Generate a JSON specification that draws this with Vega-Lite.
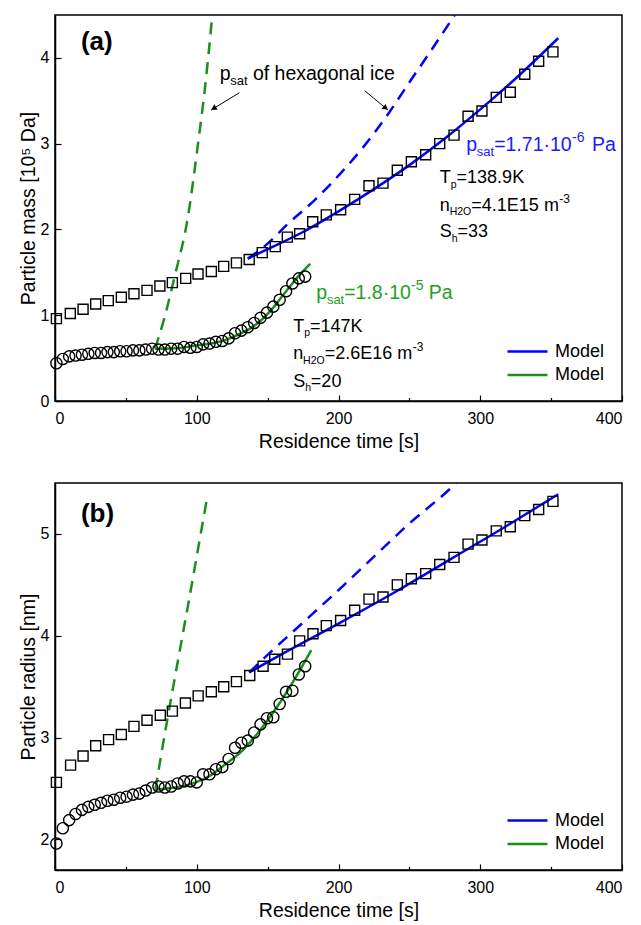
{
  "$schema": "https://vega.github.io/schema/vega-lite/v6.json",
  "background": "white",
  "padding": {"left": 17, "top": 14, "right": 12, "bottom": 5},
  "spacing": 30,
  "config": {
    "font": "Liberation Sans",
    "view": {"stroke": "black", "strokeWidth": 1.5},
    "axis": {
      "grid": false,
      "labelFont": "Liberation Sans",
      "labelFontSize": 16,
      "labelColor": "black",
      "titleFont": "Liberation Sans",
      "titleFontSize": 19.5,
      "titleFontWeight": "normal",
      "titleColor": "black",
      "domainColor": "black",
      "domainWidth": 1.5,
      "tickColor": "black",
      "tickWidth": 1.2
    },
    "legend": {
      "labelFont": "Liberation Sans",
      "labelFontSize": 18,
      "labelColor": "black"
    }
  },
  "resolve": {"scale": {"color": "independent"}, "legend": {"color": "independent"}},
  "datasets": {
    "massPts": [
      {"run": "squares", "t": 1, "v": 0.96}, {"run": "squares", "t": 10.8, "v": 1.02}, {"run": "squares", "t": 19.8, "v": 1.07},
      {"run": "squares", "t": 28.7, "v": 1.13}, {"run": "squares", "t": 37.6, "v": 1.17}, {"run": "squares", "t": 46.8, "v": 1.21},
      {"run": "squares", "t": 55.7, "v": 1.25}, {"run": "squares", "t": 64.9, "v": 1.29}, {"run": "squares", "t": 74, "v": 1.34},
      {"run": "squares", "t": 82.8, "v": 1.38}, {"run": "squares", "t": 92.2, "v": 1.43}, {"run": "squares", "t": 100.9, "v": 1.48},
      {"run": "squares", "t": 110.3, "v": 1.51}, {"run": "squares", "t": 119, "v": 1.57}, {"run": "squares", "t": 128, "v": 1.61},
      {"run": "squares", "t": 137, "v": 1.65}, {"run": "squares", "t": 146.2, "v": 1.73}, {"run": "squares", "t": 155.4, "v": 1.8},
      {"run": "squares", "t": 163.9, "v": 1.91}, {"run": "squares", "t": 172.6, "v": 1.95}, {"run": "squares", "t": 181.8, "v": 2.09},
      {"run": "squares", "t": 191.4, "v": 2.17}, {"run": "squares", "t": 201.5, "v": 2.23}, {"run": "squares", "t": 211.4, "v": 2.35},
      {"run": "squares", "t": 221.5, "v": 2.51}, {"run": "squares", "t": 231.4, "v": 2.54}, {"run": "squares", "t": 241.5, "v": 2.69},
      {"run": "squares", "t": 251.4, "v": 2.79}, {"run": "squares", "t": 261.5, "v": 2.87}, {"run": "squares", "t": 271.4, "v": 3.0},
      {"run": "squares", "t": 281.5, "v": 3.1}, {"run": "squares", "t": 291.4, "v": 3.32}, {"run": "squares", "t": 301.2, "v": 3.38},
      {"run": "squares", "t": 311.3, "v": 3.54}, {"run": "squares", "t": 321.2, "v": 3.6}, {"run": "squares", "t": 331.4, "v": 3.81},
      {"run": "squares", "t": 341.2, "v": 3.96}, {"run": "squares", "t": 351.3, "v": 4.07},
      {"run": "circles", "t": 1, "v": 0.44}, {"run": "circles", "t": 5.5, "v": 0.49}, {"run": "circles", "t": 10, "v": 0.52},
      {"run": "circles", "t": 14.5, "v": 0.53}, {"run": "circles", "t": 19, "v": 0.54}, {"run": "circles", "t": 23.5, "v": 0.55},
      {"run": "circles", "t": 28, "v": 0.56}, {"run": "circles", "t": 32.5, "v": 0.56}, {"run": "circles", "t": 37, "v": 0.57},
      {"run": "circles", "t": 41.5, "v": 0.57}, {"run": "circles", "t": 46, "v": 0.58}, {"run": "circles", "t": 50.5, "v": 0.58},
      {"run": "circles", "t": 55, "v": 0.59}, {"run": "circles", "t": 59.5, "v": 0.59}, {"run": "circles", "t": 64, "v": 0.6},
      {"run": "circles", "t": 68.5, "v": 0.61}, {"run": "circles", "t": 73, "v": 0.6}, {"run": "circles", "t": 77.5, "v": 0.6},
      {"run": "circles", "t": 82, "v": 0.61}, {"run": "circles", "t": 86.5, "v": 0.61}, {"run": "circles", "t": 91, "v": 0.63},
      {"run": "circles", "t": 95.5, "v": 0.62}, {"run": "circles", "t": 100, "v": 0.63}, {"run": "circles", "t": 104.5, "v": 0.66},
      {"run": "circles", "t": 109, "v": 0.67}, {"run": "circles", "t": 113.5, "v": 0.69}, {"run": "circles", "t": 118, "v": 0.7},
      {"run": "circles", "t": 122.5, "v": 0.73}, {"run": "circles", "t": 127, "v": 0.79}, {"run": "circles", "t": 131.5, "v": 0.82},
      {"run": "circles", "t": 136, "v": 0.86}, {"run": "circles", "t": 140.5, "v": 0.91}, {"run": "circles", "t": 145, "v": 0.97},
      {"run": "circles", "t": 149.5, "v": 1.03}, {"run": "circles", "t": 154, "v": 1.1}, {"run": "circles", "t": 158.5, "v": 1.18},
      {"run": "circles", "t": 163, "v": 1.28}, {"run": "circles", "t": 167.5, "v": 1.37}, {"run": "circles", "t": 172, "v": 1.43},
      {"run": "circles", "t": 176.5, "v": 1.45}
    ],
    "massModel": [
      {"series": "squares", "kind": "fit", "t": 136, "v": 1.66}, {"series": "squares", "kind": "fit", "t": 150, "v": 1.77},
      {"series": "squares", "kind": "fit", "t": 175, "v": 1.97}, {"series": "squares", "kind": "fit", "t": 200, "v": 2.21},
      {"series": "squares", "kind": "fit", "t": 225, "v": 2.47}, {"series": "squares", "kind": "fit", "t": 250, "v": 2.75},
      {"series": "squares", "kind": "fit", "t": 275, "v": 3.06}, {"series": "squares", "kind": "fit", "t": 300, "v": 3.4},
      {"series": "squares", "kind": "fit", "t": 325, "v": 3.76}, {"series": "squares", "kind": "fit", "t": 355, "v": 4.23},
      {"series": "circles", "kind": "fit", "t": 70.5, "v": 0.61}, {"series": "circles", "kind": "fit", "t": 85, "v": 0.615},
      {"series": "circles", "kind": "fit", "t": 101, "v": 0.65}, {"series": "circles", "kind": "fit", "t": 110, "v": 0.67},
      {"series": "circles", "kind": "fit", "t": 120, "v": 0.71}, {"series": "circles", "kind": "fit", "t": 131.5, "v": 0.79},
      {"series": "circles", "kind": "fit", "t": 140, "v": 0.87}, {"series": "circles", "kind": "fit", "t": 146, "v": 0.95},
      {"series": "circles", "kind": "fit", "t": 152, "v": 1.05}, {"series": "circles", "kind": "fit", "t": 159.7, "v": 1.21},
      {"series": "circles", "kind": "fit", "t": 165, "v": 1.32}, {"series": "circles", "kind": "fit", "t": 171.4, "v": 1.45},
      {"series": "circles", "kind": "fit", "t": 180, "v": 1.6},
      {"series": "squares", "kind": "ice", "t": 136, "v": 1.66}, {"series": "squares", "kind": "ice", "t": 149, "v": 1.82},
      {"series": "squares", "kind": "ice", "t": 164, "v": 2.06}, {"series": "squares", "kind": "ice", "t": 183, "v": 2.34},
      {"series": "squares", "kind": "ice", "t": 204, "v": 2.7}, {"series": "squares", "kind": "ice", "t": 216, "v": 2.93},
      {"series": "squares", "kind": "ice", "t": 236, "v": 3.37}, {"series": "squares", "kind": "ice", "t": 251, "v": 3.74},
      {"series": "squares", "kind": "ice", "t": 263, "v": 4.03}, {"series": "squares", "kind": "ice", "t": 282, "v": 4.5},
      {"series": "circles", "kind": "ice", "t": 70.5, "v": 0.61}, {"series": "circles", "kind": "ice", "t": 76.2, "v": 0.91},
      {"series": "circles", "kind": "ice", "t": 84.4, "v": 1.45}, {"series": "circles", "kind": "ice", "t": 93.8, "v": 2.15},
      {"series": "circles", "kind": "ice", "t": 100.9, "v": 3.0}, {"series": "circles", "kind": "ice", "t": 105.6, "v": 3.62},
      {"series": "circles", "kind": "ice", "t": 111, "v": 4.5}
    ],
    "radiusPts": [
      {"run": "squares", "t": 1, "v": 2.56}, {"run": "squares", "t": 11, "v": 2.73}, {"run": "squares", "t": 19.8, "v": 2.82},
      {"run": "squares", "t": 28.7, "v": 2.92}, {"run": "squares", "t": 37.8, "v": 2.98}, {"run": "squares", "t": 46.8, "v": 3.03},
      {"run": "squares", "t": 55.7, "v": 3.11}, {"run": "squares", "t": 64.9, "v": 3.17}, {"run": "squares", "t": 74.3, "v": 3.22},
      {"run": "squares", "t": 82.8, "v": 3.26}, {"run": "squares", "t": 92, "v": 3.34}, {"run": "squares", "t": 101, "v": 3.41},
      {"run": "squares", "t": 110.3, "v": 3.45}, {"run": "squares", "t": 119, "v": 3.5}, {"run": "squares", "t": 128, "v": 3.55},
      {"run": "squares", "t": 137.4, "v": 3.61}, {"run": "squares", "t": 146.8, "v": 3.7}, {"run": "squares", "t": 155, "v": 3.77},
      {"run": "squares", "t": 164, "v": 3.82}, {"run": "squares", "t": 172.6, "v": 3.95}, {"run": "squares", "t": 182, "v": 4.02},
      {"run": "squares", "t": 191.4, "v": 4.1}, {"run": "squares", "t": 201.5, "v": 4.15}, {"run": "squares", "t": 211.4, "v": 4.25},
      {"run": "squares", "t": 221.5, "v": 4.36}, {"run": "squares", "t": 231.4, "v": 4.38}, {"run": "squares", "t": 241.5, "v": 4.5},
      {"run": "squares", "t": 251.4, "v": 4.56}, {"run": "squares", "t": 261.5, "v": 4.61}, {"run": "squares", "t": 271.4, "v": 4.7},
      {"run": "squares", "t": 281.5, "v": 4.77}, {"run": "squares", "t": 291.4, "v": 4.9}, {"run": "squares", "t": 301.2, "v": 4.94},
      {"run": "squares", "t": 311.3, "v": 5.03}, {"run": "squares", "t": 321.2, "v": 5.07}, {"run": "squares", "t": 331.4, "v": 5.18},
      {"run": "squares", "t": 341.2, "v": 5.24}, {"run": "squares", "t": 351.3, "v": 5.32},
      {"run": "circles", "t": 1, "v": 1.96}, {"run": "circles", "t": 5.5, "v": 2.11}, {"run": "circles", "t": 10, "v": 2.19},
      {"run": "circles", "t": 14.5, "v": 2.25}, {"run": "circles", "t": 19, "v": 2.29}, {"run": "circles", "t": 23.5, "v": 2.32},
      {"run": "circles", "t": 28, "v": 2.34}, {"run": "circles", "t": 32.5, "v": 2.36}, {"run": "circles", "t": 37, "v": 2.38},
      {"run": "circles", "t": 41.5, "v": 2.39}, {"run": "circles", "t": 46, "v": 2.41}, {"run": "circles", "t": 50.5, "v": 2.42},
      {"run": "circles", "t": 55, "v": 2.44}, {"run": "circles", "t": 59.5, "v": 2.45}, {"run": "circles", "t": 64, "v": 2.48},
      {"run": "circles", "t": 68.5, "v": 2.51}, {"run": "circles", "t": 73, "v": 2.52}, {"run": "circles", "t": 77.5, "v": 2.51},
      {"run": "circles", "t": 82, "v": 2.52}, {"run": "circles", "t": 86.5, "v": 2.55}, {"run": "circles", "t": 91, "v": 2.57},
      {"run": "circles", "t": 95.5, "v": 2.57}, {"run": "circles", "t": 100, "v": 2.56}, {"run": "circles", "t": 104.5, "v": 2.64},
      {"run": "circles", "t": 109, "v": 2.64}, {"run": "circles", "t": 113.5, "v": 2.69}, {"run": "circles", "t": 118, "v": 2.71},
      {"run": "circles", "t": 122.5, "v": 2.79}, {"run": "circles", "t": 127, "v": 2.9}, {"run": "circles", "t": 131.5, "v": 2.95},
      {"run": "circles", "t": 136, "v": 2.97}, {"run": "circles", "t": 140.5, "v": 3.05}, {"run": "circles", "t": 145, "v": 3.13},
      {"run": "circles", "t": 149.5, "v": 3.19}, {"run": "circles", "t": 154, "v": 3.2}, {"run": "circles", "t": 158.5, "v": 3.33},
      {"run": "circles", "t": 163, "v": 3.45}, {"run": "circles", "t": 167.5, "v": 3.46}, {"run": "circles", "t": 172, "v": 3.62},
      {"run": "circles", "t": 176.5, "v": 3.7}
    ],
    "radiusModel": [
      {"series": "squares", "kind": "fit", "t": 137, "v": 3.64}, {"series": "squares", "kind": "fit", "t": 160, "v": 3.82},
      {"series": "squares", "kind": "fit", "t": 200, "v": 4.12}, {"series": "squares", "kind": "fit", "t": 240, "v": 4.43},
      {"series": "squares", "kind": "fit", "t": 280, "v": 4.76}, {"series": "squares", "kind": "fit", "t": 320, "v": 5.09},
      {"series": "squares", "kind": "fit", "t": 355, "v": 5.39},
      {"series": "circles", "kind": "fit", "t": 70.8, "v": 2.49}, {"series": "circles", "kind": "fit", "t": 85, "v": 2.51},
      {"series": "circles", "kind": "fit", "t": 99.2, "v": 2.56}, {"series": "circles", "kind": "fit", "t": 110, "v": 2.63},
      {"series": "circles", "kind": "fit", "t": 120.4, "v": 2.74}, {"series": "circles", "kind": "fit", "t": 132, "v": 2.87},
      {"series": "circles", "kind": "fit", "t": 146.2, "v": 3.1}, {"series": "circles", "kind": "fit", "t": 158, "v": 3.33},
      {"series": "circles", "kind": "fit", "t": 169.7, "v": 3.59}, {"series": "circles", "kind": "fit", "t": 180.8, "v": 3.86},
      {"series": "squares", "kind": "ice", "t": 137, "v": 3.64}, {"series": "squares", "kind": "ice", "t": 149, "v": 3.8},
      {"series": "squares", "kind": "ice", "t": 175, "v": 4.13}, {"series": "squares", "kind": "ice", "t": 204, "v": 4.5},
      {"series": "squares", "kind": "ice", "t": 223, "v": 4.75}, {"series": "squares", "kind": "ice", "t": 249, "v": 5.09},
      {"series": "squares", "kind": "ice", "t": 280, "v": 5.46}, {"series": "squares", "kind": "ice", "t": 283, "v": 5.5},
      {"series": "circles", "kind": "ice", "t": 70.8, "v": 2.49}, {"series": "circles", "kind": "ice", "t": 78, "v": 3.08},
      {"series": "circles", "kind": "ice", "t": 86, "v": 3.7}, {"series": "circles", "kind": "ice", "t": 94, "v": 4.31},
      {"series": "circles", "kind": "ice", "t": 101, "v": 4.86}, {"series": "circles", "kind": "ice", "t": 107.5, "v": 5.37}
    ],
    "notes": [
      {"t": 18.3, "v": 4.09, "txt": "(a)", "role": "tag", "grp": "k"},
      {"t": 116.2, "v": 3.742, "txt": "p", "role": "psat", "grp": "k"},
      {"t": 123.7, "v": 3.742, "txt": "sat", "role": "psatsub", "grp": "k"},
      {"t": 139.6, "v": 3.742, "txt": "of hexagonal ice", "role": "psat", "grp": "k"},
      {"t": 290.2, "v": 2.918, "txt": "p", "role": "psat", "grp": "b"},
      {"t": 297.6, "v": 2.918, "txt": "sat", "role": "psatsub", "grp": "b"},
      {"t": 309.8, "v": 2.918, "txt": "=1.71·10", "role": "psat", "grp": "b"},
      {"t": 364.8, "v": 2.918, "txt": "-6", "role": "psatsup", "grp": "b"},
      {"t": 378.8, "v": 2.918, "txt": "Pa", "role": "psat", "grp": "b"},
      {"t": 271.4, "v": 2.538, "txt": "T", "role": "par", "grp": "k"},
      {"t": 279.2, "v": 2.538, "txt": "p", "role": "parsub", "grp": "k"},
      {"t": 283.3, "v": 2.538, "txt": "=138.9K", "role": "par", "grp": "k"},
      {"t": 271.4, "v": 2.218, "txt": "n", "role": "par", "grp": "k"},
      {"t": 278.4, "v": 2.218, "txt": "H2O", "role": "parsub", "grp": "k"},
      {"t": 293.7, "v": 2.218, "txt": "=4.1E15 m", "role": "par", "grp": "k"},
      {"t": 355.8, "v": 2.218, "txt": "-3", "role": "parsup", "grp": "k"},
      {"t": 271.4, "v": 1.908, "txt": "S", "role": "par", "grp": "k"},
      {"t": 279.9, "v": 1.908, "txt": "h", "role": "parsub", "grp": "k"},
      {"t": 283.9, "v": 1.908, "txt": "=33", "role": "par", "grp": "k"},
      {"t": 184.3, "v": 1.186, "txt": "p", "role": "psat", "grp": "g"},
      {"t": 191.8, "v": 1.186, "txt": "sat", "role": "psatsub", "grp": "g"},
      {"t": 204.0, "v": 1.186, "txt": "=1.8·10", "role": "psat", "grp": "g"},
      {"t": 251.2, "v": 1.186, "txt": "-5", "role": "psatsup", "grp": "g"},
      {"t": 263.6, "v": 1.186, "txt": "Pa", "role": "psat", "grp": "g"},
      {"t": 168, "v": 0.808, "txt": "T", "role": "par", "grp": "k"},
      {"t": 175.8, "v": 0.808, "txt": "p", "role": "parsub", "grp": "k"},
      {"t": 179.9, "v": 0.808, "txt": "=147K", "role": "par", "grp": "k"},
      {"t": 168, "v": 0.486, "txt": "n", "role": "par", "grp": "k"},
      {"t": 175, "v": 0.486, "txt": "H2O", "role": "parsub", "grp": "k"},
      {"t": 190.3, "v": 0.486, "txt": "=2.6E16 m", "role": "par", "grp": "k"},
      {"t": 252.4, "v": 0.486, "txt": "-3", "role": "parsup", "grp": "k"},
      {"t": 168, "v": 0.167, "txt": "S", "role": "par", "grp": "k"},
      {"t": 176.5, "v": 0.167, "txt": "h", "role": "parsub", "grp": "k"},
      {"t": 180.5, "v": 0.167, "txt": "=20", "role": "par", "grp": "k"}
    ],
    "arrows": [
      {"id": "left", "t": 130.1, "v": 3.594, "t2": 110.1, "v2": 3.392, "hx": 111.9, "hv": 3.411},
      {"id": "right", "t": 218.5, "v": 3.617, "t2": 234.9, "v2": 3.392, "hx": 233.3, "hv": 3.415}
    ],
    "tagB": [
      {"t": 18.3, "v": 5.12, "txt": "(b)"}
    ]
  },
  "vconcat": [
    {
      "width": 567,
      "height": 386,
      "encoding": {
        "x": {
          "field": "t", "type": "quantitative",
          "scale": {"domain": [0, 400], "nice": false},
          "axis": {
            "title": "Residence time [s]",
            "values": [0, 50, 100, 150, 200, 250, 300, 350, 400],
            "format": "d",
            "labelExpr": "datum.value % 100 === 0 ? datum.label : ''",
            "tickSize": {"condition": {"test": "datum.value % 100 === 0", "value": -6}, "value": -3.5},
            "labelPadding": 15,
            "titlePadding": 6
          }
        },
        "y": {
          "field": "v", "type": "quantitative",
          "scale": {"domain": [0, 4.5], "nice": false, "zero": false},
          "axis": {
            "title": "Particle mass [10⁵ Da]",
            "values": [0, 0.5, 1, 1.5, 2, 2.5, 3, 3.5, 4],
            "format": "d",
            "labelExpr": "datum.value % 1 === 0 ? datum.label : ''",
            "tickSize": {"condition": {"test": "datum.value % 1 === 0", "value": -6}, "value": -3.5},
            "labelPadding": 12,
            "titlePadding": 2
          }
        }
      },
      "layer": [
        {
          "data": {"name": "massModel"},
          "transform": [{"filter": {"field": "kind", "equal": "fit"}}],
          "mark": {"type": "line", "strokeWidth": 2.5, "interpolate": "monotone", "clip": true},
          "encoding": {
            "color": {
              "field": "series", "type": "nominal",
              "scale": {"domain": ["squares", "circles"], "range": ["#0000ff", "#1b8f1b"]},
              "legend": {
                "title": null, "orient": "bottom-right", "offset": 17, "padding": 0,
                "labelExpr": "'Model'", "symbolType": "M-2,0H2", "symbolSize": 400,
                "symbolStrokeWidth": 2.5, "rowPadding": 2.5, "labelOffset": 16
              }
            }
          }
        },
        {
          "data": {"name": "massModel"},
          "transform": [{"filter": {"field": "kind", "equal": "ice"}}],
          "mark": {"type": "line", "strokeWidth": 2.5, "strokeDash": [12, 8], "interpolate": "monotone", "clip": true},
          "encoding": {
            "detail": {"field": "series"},
            "color": {"condition": {"test": "datum.series === 'squares'", "value": "#0000ff"}, "value": "#1b8f1b"}
          }
        },
        {
          "data": {"name": "massPts"},
          "transform": [{"filter": {"field": "run", "equal": "squares"}}],
          "mark": {"type": "point", "shape": "square", "size": 100, "filled": false, "stroke": "black", "strokeWidth": 1.4, "opacity": 1}
        },
        {
          "data": {"name": "massPts"},
          "transform": [{"filter": {"field": "run", "equal": "circles"}}],
          "mark": {"type": "point", "shape": "circle", "size": 125, "filled": false, "stroke": "black", "strokeWidth": 1.4, "opacity": 1}
        },
        {
          "data": {"name": "arrows"},
          "mark": {"type": "rule", "stroke": "black", "strokeWidth": 1},
          "encoding": {"x2": {"field": "t2"}, "y2": {"field": "v2"}}
        },
        {
          "data": {"name": "arrows"},
          "transform": [{"filter": {"field": "id", "equal": "left"}}],
          "mark": {"type": "point", "shape": "triangle-up", "size": 40, "filled": true, "fill": "black", "strokeWidth": 0, "angle": 238.6, "opacity": 1},
          "encoding": {"x": {"field": "hx", "type": "quantitative"}, "y": {"field": "hv", "type": "quantitative"}}
        },
        {
          "data": {"name": "arrows"},
          "transform": [{"filter": {"field": "id", "equal": "right"}}],
          "mark": {"type": "point", "shape": "triangle-up", "size": 40, "filled": true, "fill": "black", "strokeWidth": 0, "angle": 129.6, "opacity": 1},
          "encoding": {"x": {"field": "hx", "type": "quantitative"}, "y": {"field": "hv", "type": "quantitative"}}
        },
        {
          "data": {"name": "notes"},
          "transform": [{"filter": {"field": "role", "equal": "tag"}}],
          "mark": {"type": "text", "align": "left", "baseline": "alphabetic", "fontSize": 26, "fontWeight": "bold", "font": "Liberation Sans", "color": "black"},
          "encoding": {"text": {"field": "txt"}}
        },
        {
          "data": {"name": "notes"},
          "transform": [{"filter": {"field": "role", "equal": "psat"}}],
          "mark": {"type": "text", "align": "left", "baseline": "alphabetic", "fontSize": 19.5, "font": "Liberation Sans"},
          "encoding": {
            "text": {"field": "txt"},
            "color": {"condition": [{"test": "datum.grp === 'b'", "value": "#1a1aff"}, {"test": "datum.grp === 'g'", "value": "#23a023"}], "value": "black"}
          }
        },
        {
          "data": {"name": "notes"},
          "transform": [{"filter": {"field": "role", "equal": "psatsub"}}],
          "mark": {"type": "text", "align": "left", "baseline": "alphabetic", "fontSize": 13, "dy": 5, "font": "Liberation Sans"},
          "encoding": {
            "text": {"field": "txt"},
            "color": {"condition": [{"test": "datum.grp === 'b'", "value": "#1a1aff"}, {"test": "datum.grp === 'g'", "value": "#23a023"}], "value": "black"}
          }
        },
        {
          "data": {"name": "notes"},
          "transform": [{"filter": {"field": "role", "equal": "psatsup"}}],
          "mark": {"type": "text", "align": "left", "baseline": "alphabetic", "fontSize": 14, "dy": -9, "font": "Liberation Sans"},
          "encoding": {
            "text": {"field": "txt"},
            "color": {"condition": [{"test": "datum.grp === 'b'", "value": "#1a1aff"}, {"test": "datum.grp === 'g'", "value": "#23a023"}], "value": "black"}
          }
        },
        {
          "data": {"name": "notes"},
          "transform": [{"filter": {"field": "role", "equal": "par"}}],
          "mark": {"type": "text", "align": "left", "baseline": "alphabetic", "fontSize": 18, "font": "Liberation Sans", "color": "black"},
          "encoding": {"text": {"field": "txt"}}
        },
        {
          "data": {"name": "notes"},
          "transform": [{"filter": {"field": "role", "equal": "parsub"}}],
          "mark": {"type": "text", "align": "left", "baseline": "alphabetic", "fontSize": 10.5, "dy": 4.5, "font": "Liberation Sans", "color": "black"},
          "encoding": {"text": {"field": "txt"}}
        },
        {
          "data": {"name": "notes"},
          "transform": [{"filter": {"field": "role", "equal": "parsup"}}],
          "mark": {"type": "text", "align": "left", "baseline": "alphabetic", "fontSize": 12, "dy": -8, "font": "Liberation Sans", "color": "black"},
          "encoding": {"text": {"field": "txt"}}
        }
      ]
    },
    {
      "width": 567,
      "height": 387,
      "encoding": {
        "x": {
          "field": "t", "type": "quantitative",
          "scale": {"domain": [0, 400], "nice": false},
          "axis": {
            "title": "Residence time [s]",
            "values": [0, 50, 100, 150, 200, 250, 300, 350, 400],
            "format": "d",
            "labelExpr": "datum.value % 100 === 0 ? datum.label : ''",
            "tickSize": {"condition": {"test": "datum.value % 100 === 0", "value": -6}, "value": -3.5},
            "labelPadding": 15,
            "titlePadding": 6
          }
        },
        "y": {
          "field": "v", "type": "quantitative",
          "scale": {"domain": [1.7, 5.5], "nice": false, "zero": false},
          "axis": {
            "title": "Particle radius [nm]",
            "values": [2, 2.5, 3, 3.5, 4, 4.5, 5],
            "format": "d",
            "labelExpr": "datum.value % 1 === 0 ? datum.label : ''",
            "tickSize": {"condition": {"test": "datum.value % 1 === 0", "value": -6}, "value": -3.5},
            "labelPadding": 12,
            "titlePadding": 2
          }
        }
      },
      "layer": [
        {
          "data": {"name": "radiusModel"},
          "transform": [{"filter": {"field": "kind", "equal": "fit"}}],
          "mark": {"type": "line", "strokeWidth": 2.5, "interpolate": "monotone", "clip": true},
          "encoding": {
            "color": {
              "field": "series", "type": "nominal",
              "scale": {"domain": ["squares", "circles"], "range": ["#0000ff", "#1b8f1b"]},
              "legend": {
                "title": null, "orient": "bottom-right", "offset": 17, "padding": 0,
                "labelExpr": "'Model'", "symbolType": "M-2,0H2", "symbolSize": 400,
                "symbolStrokeWidth": 2.5, "rowPadding": 2.5, "labelOffset": 16
              }
            }
          }
        },
        {
          "data": {"name": "radiusModel"},
          "transform": [{"filter": {"field": "kind", "equal": "ice"}}],
          "mark": {"type": "line", "strokeWidth": 2.5, "strokeDash": [12, 8], "interpolate": "monotone", "clip": true},
          "encoding": {
            "detail": {"field": "series"},
            "color": {"condition": {"test": "datum.series === 'squares'", "value": "#0000ff"}, "value": "#1b8f1b"}
          }
        },
        {
          "data": {"name": "radiusPts"},
          "transform": [{"filter": {"field": "run", "equal": "squares"}}],
          "mark": {"type": "point", "shape": "square", "size": 100, "filled": false, "stroke": "black", "strokeWidth": 1.4, "opacity": 1}
        },
        {
          "data": {"name": "radiusPts"},
          "transform": [{"filter": {"field": "run", "equal": "circles"}}],
          "mark": {"type": "point", "shape": "circle", "size": 125, "filled": false, "stroke": "black", "strokeWidth": 1.4, "opacity": 1}
        },
        {
          "data": {"name": "tagB"},
          "mark": {"type": "text", "align": "left", "baseline": "alphabetic", "fontSize": 26, "fontWeight": "bold", "font": "Liberation Sans", "color": "black"},
          "encoding": {"text": {"field": "txt"}}
        }
      ]
    }
  ]
}
